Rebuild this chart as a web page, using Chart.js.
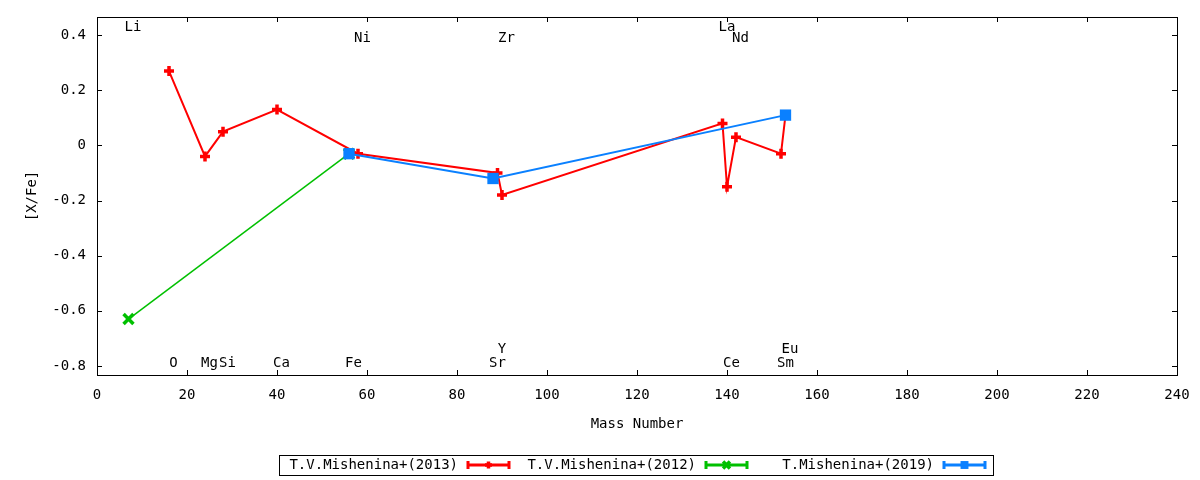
<!DOCTYPE html>
<html>
<head>
<meta charset="utf-8">
<script src="https://cdn.jsdelivr.net/npm/chart.js@4/dist/chart.umd.min.js"></script>
<style>
  html, body { margin: 0; padding: 0; background: #fff; }
  #wrap { width: 1200px; height: 480px; position: relative; }
</style>
</head>
<body>
<div id="wrap"><canvas id="chart"></canvas></div>
<script>
/* ── Data ──────────────────────────────────────────────────────── */
var mass2013 = [16, 24, 28, 40, 58, 89, 90, 139, 140, 142, 152, 153];
var xfe2013  = [0.27, -0.04, 0.05, 0.13, -0.03, -0.10, -0.18, 0.08, -0.15, 0.03, -0.03, 0.11];

var mass2012 = [7, 56];
var xfe2012  = [-0.63, -0.03];

var mass2019 = [56, 88, 153];
var xfe2019  = [-0.03, -0.12, 0.11];

var seriesNames = ['T.V.Mishenina+(2013)', 'T.V.Mishenina+(2012)', 'T.Mishenina+(2019)'];

// element labels written over the plot
var elemNames  = ['Li', 'Ni', 'Zr', 'La', 'Nd', 'O', 'Mg', 'Si', 'Ca', 'Fe', 'Sr', 'Y', 'Ce', 'Sm', 'Eu'];
var elemMass   = [7, 58, 90, 139, 142, 16, 24, 28, 40, 56, 88, 89, 140, 152, 153];
var elemLabelY = [0.43, 0.39, 0.39, 0.43, 0.39, -0.79, -0.79, -0.79, -0.79, -0.79, -0.79, -0.74, -0.79, -0.79, -0.74];

var xTicks = [0, 20, 40, 60, 80, 100, 120, 140, 160, 180, 200, 220, 240];
var yTicks = [-0.8, -0.6, -0.4, -0.2, 0, 0.2, 0.4];

/* ── Helpers ───────────────────────────────────────────────────── */
var FONT = "'DejaVu Sans Mono', monospace";
var FSIZE = 14;

function toPoints(xs, ys) {
  return xs.map(function(x, i) { return { x: x, y: ys[i] }; });
}

function fmtTick(v) {
  var r = Math.round(v * 10) / 10;
  return r === 0 ? '0' : String(r);
}

/* ── Plugins: frame + inward ticks, element labels, legend ────── */
var framePlugin = {
  id: 'frame',
  afterDraw: function(chart) {
    var ctx = chart.ctx, a = chart.chartArea;
    var xs = chart.scales.x, ys = chart.scales.y;
    var tl = 5;
    ctx.save();
    ctx.strokeStyle = '#000';
    ctx.lineWidth = 1;
    ctx.beginPath();
    xTicks.forEach(function(v) {
      var px = Math.round(xs.getPixelForValue(v)) + 0.5;
      ctx.moveTo(px, a.bottom); ctx.lineTo(px, a.bottom - tl);
      ctx.moveTo(px, a.top); ctx.lineTo(px, a.top + tl);
    });
    yTicks.forEach(function(v) {
      var py = Math.round(ys.getPixelForValue(v)) + 0.5;
      ctx.moveTo(a.left, py); ctx.lineTo(a.left + tl, py);
      ctx.moveTo(a.right, py); ctx.lineTo(a.right - tl, py);
    });
    ctx.stroke();
    ctx.strokeRect(Math.round(a.left) + 0.5, Math.round(a.top) + 0.5,
                   Math.round(a.right - a.left), Math.round(a.bottom - a.top));
    ctx.restore();
  }
};

var elemLabelPlugin = {
  id: 'elemLabels',
  afterDatasetsDraw: function(chart) {
    var ctx = chart.ctx;
    var xs = chart.scales.x, ys = chart.scales.y;
    ctx.save();
    ctx.fillStyle = '#000';
    ctx.font = FSIZE + 'px ' + FONT;
    ctx.textAlign = 'center';
    ctx.textBaseline = 'middle';
    elemNames.forEach(function(name, i) {
      // label sits a little right of its mass number
      ctx.fillText(name, xs.getPixelForValue(elemMass[i] + 1), ys.getPixelForValue(elemLabelY[i]));
    });
    ctx.restore();
  }
};

var legendPlugin = {
  id: 'keyBox',
  afterDraw: function(chart) {
    var ctx = chart.ctx;
    var boxX = 279, boxY = 455, boxW = 714, boxH = 20;
    var midY = boxY + boxH / 2;
    ctx.save();
    ctx.strokeStyle = '#000';
    ctx.lineWidth = 1;
    ctx.strokeRect(boxX + 0.5, boxY + 0.5, boxW, boxH);
    ctx.font = FSIZE + 'px ' + FONT;
    ctx.textAlign = 'right';
    ctx.textBaseline = 'middle';
    chart.data.datasets.forEach(function(ds, i) {
      var textRight = boxX + 179 + i * 238;
      ctx.fillStyle = '#000';
      ctx.fillText(ds.label, textRight, midY);
      var x0 = textRight + 9, x1 = textRight + 52;
      ctx.strokeStyle = ds.borderColor;
      ctx.lineWidth = 3;
      ctx.beginPath();
      ctx.moveTo(x0, midY); ctx.lineTo(x1, midY);
      ctx.moveTo(x0 + 1, midY - 4); ctx.lineTo(x0 + 1, midY + 4);
      ctx.moveTo(x1 - 1, midY - 4); ctx.lineTo(x1 - 1, midY + 4);
      ctx.stroke();
      if (Chart.helpers && Chart.helpers.drawPoint) {
        ctx.fillStyle = ds.pointBackgroundColor;
        ctx.lineWidth = ds.pointBorderWidth;
        Chart.helpers.drawPoint(ctx, {
          pointStyle: ds.pointStyle, radius: ds.pointRadius * 0.7, rotation: 0, borderWidth: ds.pointBorderWidth
        }, (x0 + x1) / 2, midY);
      }
    });
    ctx.restore();
  }
};

/* ── Chart ─────────────────────────────────────────────────────── */
var RED = '#ff0000', GREEN = '#00c000', BLUE = '#0a80ff';

new Chart(document.getElementById('chart'), {
  type: 'line',
  data: {
    datasets: [{
      label: seriesNames[0],
      data: toPoints(mass2013, xfe2013),
      borderColor: RED,
      backgroundColor: RED,
      borderWidth: 2,
      pointStyle: 'cross',
      pointRadius: 5,
      pointBorderWidth: 3.5,
      pointBorderColor: RED,
      pointBackgroundColor: RED,
      order: 3
    }, {
      label: seriesNames[1],
      data: toPoints(mass2012, xfe2012),
      borderColor: GREEN,
      backgroundColor: GREEN,
      borderWidth: 1.5,
      pointStyle: 'crossRot',
      pointRadius: 7,
      pointBorderWidth: 3.5,
      pointBorderColor: GREEN,
      pointBackgroundColor: GREEN,
      order: 2
    }, {
      label: seriesNames[2],
      data: toPoints(mass2019, xfe2019),
      borderColor: BLUE,
      backgroundColor: BLUE,
      borderWidth: 2,
      pointStyle: 'rect',
      pointRadius: 8,
      pointBorderWidth: 0,
      pointBorderColor: BLUE,
      pointBackgroundColor: BLUE,
      order: 1
    }]
  },
  options: {
    responsive: true,
    maintainAspectRatio: false,
    animation: false,
    layout: { padding: { left: 0, right: 23, top: 17, bottom: 0 } },
    plugins: {
      legend: { display: false },
      tooltip: { enabled: false }
    },
    scales: {
      x: {
        type: 'linear',
        min: 0,
        max: 240,
        afterFit: function(s) { s.height = 105; s.paddingLeft = 0; s.paddingRight = 0; },
        afterBuildTicks: function(s) { s.ticks = xTicks.map(function(v) { return { value: v }; }); },
        grid: { display: false, drawTicks: false },
        border: { display: false },
        ticks: { color: '#000', font: { family: FONT, size: FSIZE }, padding: 12, maxRotation: 0,
                 callback: function(v) { return String(v); } },
        title: { display: true, text: 'Mass Number', color: '#000',
                 font: { family: FONT, size: FSIZE }, padding: { top: 0, bottom: 47 } }
      },
      y: {
        type: 'linear',
        min: -0.833,
        max: 0.466,
        afterFit: function(s) { s.width = 97; s.paddingTop = 0; s.paddingBottom = 0; },
        afterBuildTicks: function(s) { s.ticks = yTicks.map(function(v) { return { value: v }; }); },
        grid: { display: false, drawTicks: false },
        border: { display: false },
        ticks: { color: '#000', font: { family: FONT, size: FSIZE }, padding: 11,
                 callback: function(v) { return fmtTick(v); } },
        title: { display: true, text: '[X/Fe]', color: '#000',
                 font: { family: FONT, size: FSIZE }, padding: { top: 24, bottom: 0 } }
      }
    }
  },
  plugins: [framePlugin, elemLabelPlugin, legendPlugin]
});
</script>
</body>
</html>
